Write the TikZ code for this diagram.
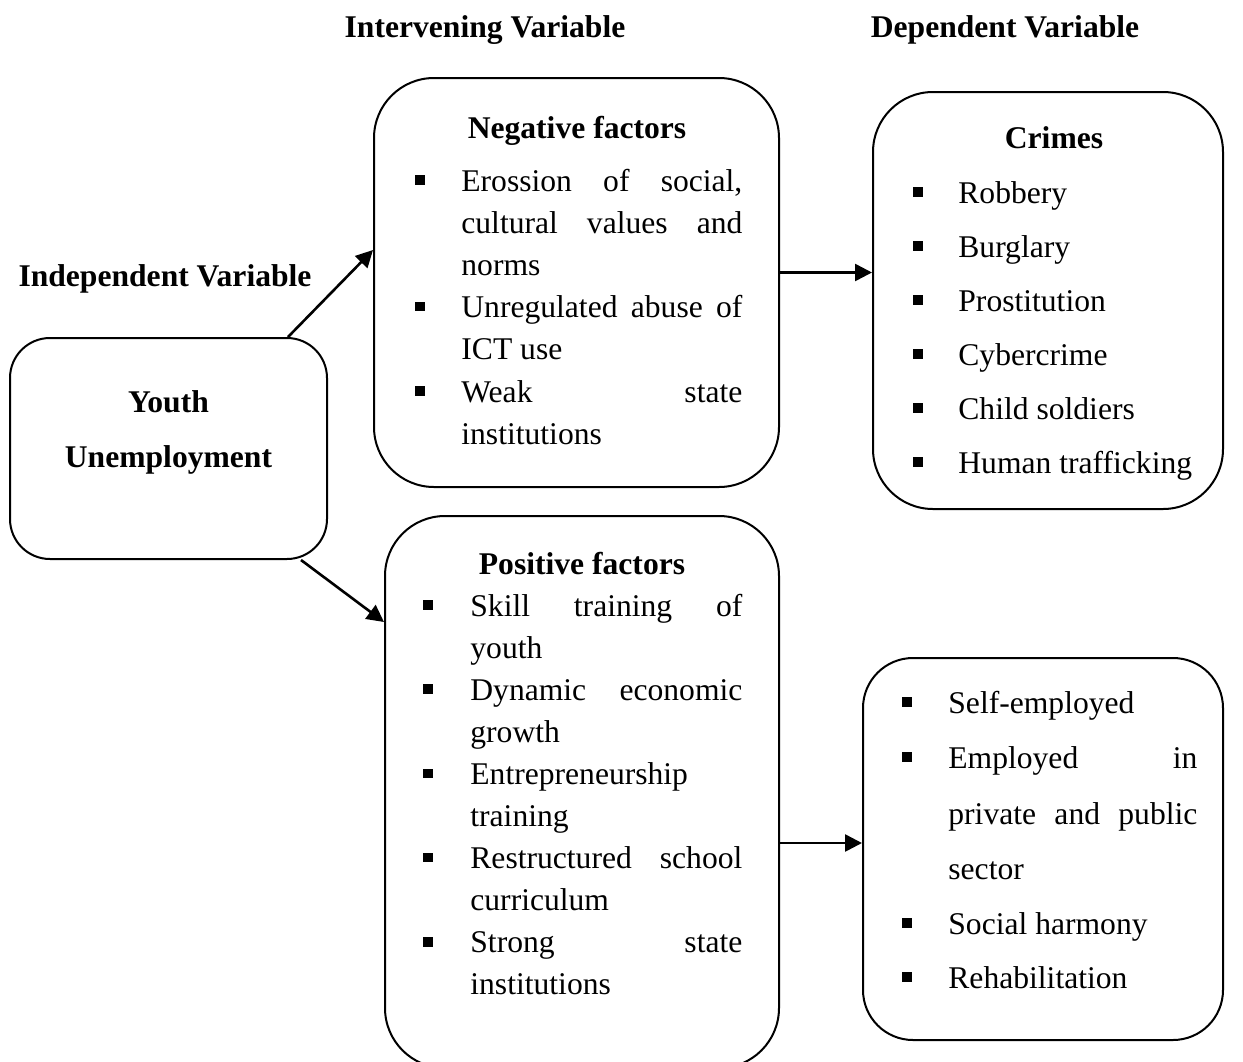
\documentclass[tikz,border=0pt]{standalone}
\usepackage{fontspec}
\setmainfont{Liberation Serif}
\usetikzlibrary{arrows.meta}

% a line stretched to the full column width
\newcommand{\jline}[2]{\makebox[#1][s]{#2}}

\begin{document}
\begin{tikzpicture}[x=0.5pt, y=-0.5pt,
  every node/.style={font=\fontsize{15.8}{19}\selectfont, inner sep=0pt},
  box/.style={draw, line width=1pt, rounded corners=#1},
  box/.default=30pt,
  txt/.style={anchor=base west},
  hd/.style={anchor=base, font=\fontsize{15.8}{19}\selectfont\bfseries},
  bul/.style={fill, minimum size=4.8pt},
  link/.style={line width=1.3pt, -{Triangle[length=8.5pt, width=8.5pt]}}]
  \useasboundingbox (0,0) rectangle (1243,1061);
  \clip (0,0) rectangle (1243,1061);
  % column headings
  \node[hd] (ivar) at (485,37) {Intervening Variable};
  \node[hd] (dvar) at (1005,37) {Dependent Variable};
  \node[hd] (indvar) at (165,286) {Independent Variable};
  % the five boxes
  \node[box=20pt, minimum width=158.5pt, minimum height=110.5pt]
    (youth) at (168.5,448.5) {};
  \node[box, minimum width=202.5pt, minimum height=204.5pt]
    (neg) at (576.5,282.5) {};
  \node[box, minimum width=175pt, minimum height=208.5pt]
    (crimes) at (1048,300.5) {};
  \node[box, minimum width=197pt, minimum height=276pt]
    (pos) at (582,792) {};
  \node[box=25pt, minimum width=180pt, minimum height=191pt]
    (outc) at (1043,849) {};
  % box titles
  \node[hd] (youtht) at (168.5,412) {Youth};
  \node[hd] (youthu) at (168.5,467) {Unemployment};
  \node[hd] (negt) at (577,138) {Negative factors};
  \node[hd] (post) at (582,574) {Positive factors};
  \node[hd] (crimest) at (1054,148) {Crimes};
  % bullets: {x/baseline}
  \foreach \x/\y [count=\i] in {420/191, 420/317.6, 420/402,
                                428/616, 428/700.2, 428/784.4, 428/868.6, 428/952.8,
                                918/203, 918/257, 918/311, 918/365, 918/419, 918/473,
                                907/713, 907/768, 907/934, 907/988}
    \node[bul] (b\i) at (\x,\y-11) {};
  % justified lines: {x/baseline/width/text}
  \foreach \x/\y/\w/\t [count=\i] in {
      461/191/140.5/{Erossion of social,}, 461/233.2/140.5/{cultural values and},
      461/317.6/140.5/{Unregulated abuse of}, 461/402/140.5/{Weak state},
      470/616/136/{Skill training of}, 470/700.2/136/{Dynamic economic},
      470/868.6/136/{Restructured school}, 470/952.8/136/{Strong state},
      948/768/124.5/{Employed in}, 948/824/124.5/{private and public}}
    \node[txt] (jl\i) at (\x,\y) {\jline{\w pt}{\t}};
  % plain lines: {x/baseline/text}
  \foreach \x/\y/\t [count=\i] in {
      461/275.4/norms, 461/359.8/ICT use, 461/444.2/institutions,
      470/658.1/youth, 470/742.3/growth, 470/784.4/Entrepreneurship,
      470/826.5/training, 470/910.7/curriculum, 470/994.9/institutions,
      958/203/Robbery, 958/257/Burglary, 958/311/Prostitution,
      958/365/Cybercrime, 958/419/Child soldiers, 958/473/Human trafficking,
      948/713/Self-employed, 948/879/sector, 948/934/Social harmony,
      948/988/Rehabilitation}
    \node[txt] (pl\i) at (\x,\y) {\t};
  % arrows
  \draw[link] ([xshift=-20pt]youth.north east) -- ([yshift=16.25pt]neg.west);
  \draw[link] ([xshift=-13.5pt]youth.south east) -- ([yshift=85pt]pos.west);
  \coordinate (negout) at ([yshift=5pt]neg.east);
  \draw[link] (negout) -- (negout -| crimes.west);
  \coordinate (posout) at ([yshift=-25.5pt]pos.east);
  \draw[link] (posout) -- (posout -| outc.west);
\end{tikzpicture}
\end{document}
